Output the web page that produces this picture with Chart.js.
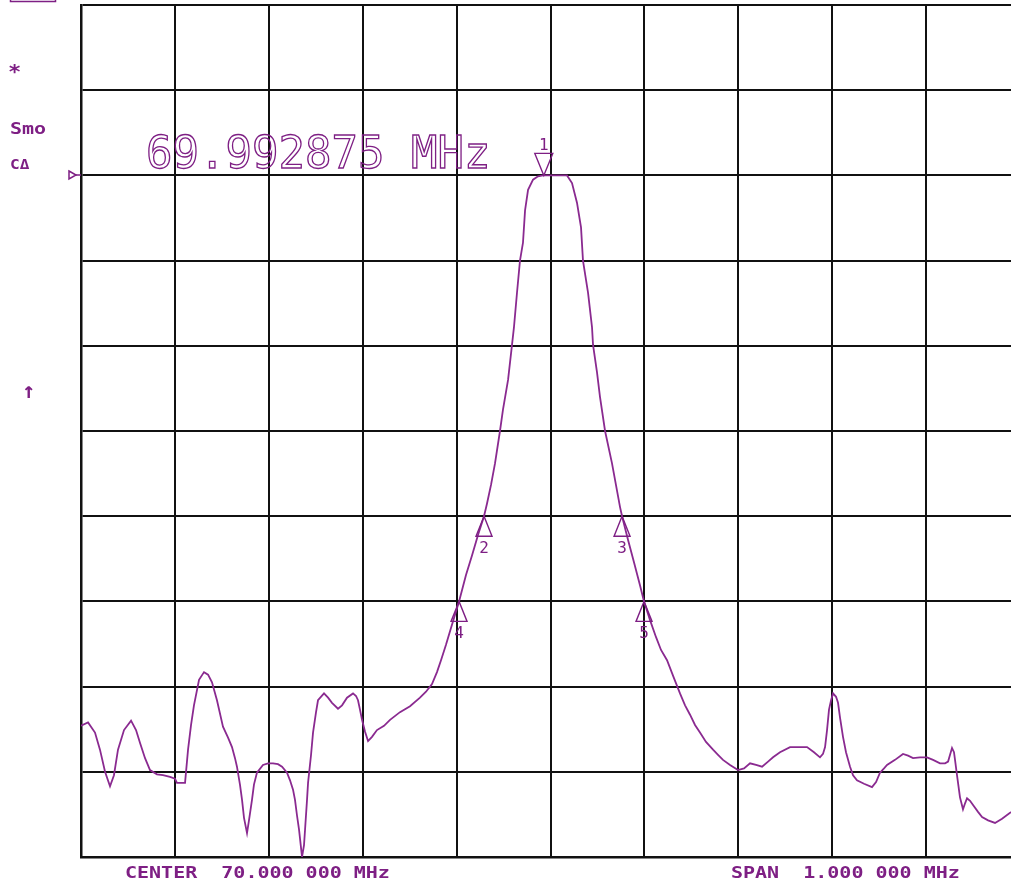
<!DOCTYPE html>
<html><head><meta charset="utf-8">
<script src="https://cdn.jsdelivr.net/npm/chart.js@4.4.1/dist/chart.umd.min.js"></script>
<style>
html,body{margin:0;padding:0;background:#fff;overflow:hidden;}
#wrap{position:relative;width:1040px;height:884px;}
</style></head><body>
<div id="wrap"><canvas id="c" width="1040" height="884"></canvas></div>
<script>
// Sweep: frequency (MHz) and trace level (dB, ref level 0 dB at the ">" marker, 10 dB/div)
const freqMHz = [
69.5000,69.5075,69.5149,69.5202,69.5256,69.5309,69.5351,69.5394,69.5458,69.5533,
69.5586,69.5628,69.5682,69.5735,69.5809,69.5873,69.5948,69.6001,69.6022,69.6108,
69.6140,69.6172,69.6203,69.6257,69.6310,69.6353,69.6395,69.6448,69.6512,69.6566,
69.6608,69.6640,69.6661,69.6693,69.6715,69.6736,69.6768,69.6789,69.6821,69.6842,
69.6874,69.6938,69.6992,69.7045,69.7098,69.7141,69.7194,69.7226,69.7258,69.7279,
69.7300,69.7322,69.7354,69.7375,69.7386,69.7407,69.7418,69.7450,69.7471,69.7503,
69.7524,69.7588,69.7631,69.7673,69.7737,69.7780,69.7833,69.7897,69.7929,69.7950,
69.7971,69.7993,69.8025,69.8057,69.8099,69.8152,69.8227,69.8291,69.8397,69.8504,
69.8610,69.8674,69.8738,69.8791,69.8834,69.8887,69.8941,69.9026,69.9100,69.9164,
69.9228,69.9292,69.9324,69.9367,69.9409,69.9462,69.9494,69.9548,69.9590,69.9611,
69.9643,69.9675,69.9707,69.9729,69.9761,69.9814,69.9867,69.9920,70.0006,70.0101,
70.0176,70.0229,70.0282,70.0325,70.0346,70.0400,70.0442,70.0453,70.0495,70.0527,
70.0581,70.0655,70.0740,70.0762,70.0826,70.0889,70.0953,70.0996,70.1060,70.1124,
70.1177,70.1241,70.1315,70.1379,70.1433,70.1486,70.1539,70.1592,70.1656,70.1731,
70.1784,70.1837,70.1912,70.1997,70.2061,70.2125,70.2189,70.2253,70.2317,70.2370,
70.2444,70.2551,70.2636,70.2732,70.2806,70.2870,70.2902,70.2924,70.2945,70.2966,
70.2988,70.3009,70.3041,70.3062,70.3083,70.3115,70.3147,70.3190,70.3222,70.3264,
70.3339,70.3424,70.3467,70.3509,70.3552,70.3584,70.3669,70.3754,70.3808,70.3861,
70.3935,70.4010,70.4074,70.4148,70.4202,70.4234,70.4255,70.4276,70.4297,70.4308,
70.4329,70.4361,70.4393,70.4415,70.4436,70.4468,70.4500,70.4553,70.4596,70.4660,
70.4734,70.4809,70.4894,70.5000
];
const levelDb = [
-64.6,-64.2,-65.4,-67.4,-70.0,-71.7,-70.4,-67.4,-65.1,-64.0,
-65.1,-66.6,-68.4,-69.8,-70.3,-70.4,-70.6,-70.8,-71.3,-71.3,
-67.4,-64.5,-62.2,-59.2,-58.3,-58.6,-59.5,-61.6,-64.7,-66.0,
-67.1,-68.4,-69.4,-71.5,-73.3,-75.4,-77.2,-75.7,-73.3,-71.5,
-70.1,-69.2,-69.0,-69.0,-69.1,-69.4,-70.1,-71.0,-72.1,-73.3,
-75.1,-76.8,-80.0,-78.6,-76.8,-73.3,-71.3,-68.0,-65.4,-63.0,
-61.6,-60.8,-61.3,-61.9,-62.6,-62.2,-61.3,-60.8,-61.1,-61.6,
-62.7,-63.9,-65.3,-66.4,-65.9,-65.1,-64.6,-63.9,-63.0,-62.3,
-61.3,-60.6,-59.7,-58.3,-56.9,-55.1,-53.1,-50.0,-46.9,-44.6,
-42.2,-40.0,-38.5,-36.3,-33.8,-30.0,-27.5,-24.0,-19.9,-17.8,
-13.8,-10.0,-7.9,-4.1,-1.7,-0.5,-0.1,0,0,0,
0,-0.9,-3.2,-6.1,-10.0,-13.8,-17.8,-19.9,-23.1,-26.0,
-30.0,-33.8,-38.9,-40.0,-42.8,-45.4,-48.1,-50.0,-52.2,-54.2,
-55.7,-56.9,-59.0,-60.8,-62.2,-63.3,-64.5,-65.4,-66.5,-67.4,
-68.0,-68.6,-69.2,-69.8,-69.6,-69.0,-69.2,-69.4,-68.8,-68.3,
-67.7,-67.1,-67.1,-67.1,-67.7,-68.3,-67.9,-67.1,-65.1,-62.7,
-61.6,-60.8,-61.2,-61.9,-63.6,-65.9,-67.7,-69.4,-70.4,-71.0,
-71.4,-71.8,-71.2,-70.1,-69.6,-69.2,-68.6,-67.9,-68.1,-68.4,
-68.3,-68.3,-68.6,-69.0,-69.0,-68.8,-68.0,-67.2,-67.7,-68.6,
-70.4,-73.0,-74.4,-73.7,-73.1,-73.4,-73.9,-74.7,-75.3,-75.7,
-76.0,-75.5,-74.8,-74.3
];
// Markers
const markerNums  = ['1','2','3','4','5'];
const markerFreq  = [69.992875, 69.9292, 70.0762, 69.9026, 70.0996];
const markerLevel = [0, -40, -40, -50, -50];
const markerDown  = [true, false, false, false, false];
// Axis setup
const freqMin = 69.5, freqMax = 70.5, freqStep = 0.1;
const dbMin = -80, dbMax = 20, dbStep = 10;
const refLevel = 0;
// Annotation texts
const activeMarkerText = '69.992875 MHz';
const centerText = 'CENTER  70.000 000 MHz';
const spanText = 'SPAN  1.000 000 MHz';
const sideLabels = ['*', 'Smo', 'C\u0394', '\u2191'];

const TXT = '#7e1f84';
const TRACE = '#8a2a90';

function wideText(ctx, s, x, y, size, sx, weight) {
  ctx.save();
  ctx.font = (weight || 'normal') + ' ' + size + "px 'DejaVu Sans Mono'";
  ctx.translate(x, y);
  ctx.scale(sx, 1);
  ctx.fillText(s, 0, 0);
  ctx.restore();
}

const overlay = {
  id: 'overlay',
  afterDraw(chart) {
    const ctx = chart.ctx;
    const xs = chart.scales.x, ys = chart.scales.y;
    ctx.save();
    ctx.fillStyle = TXT; ctx.strokeStyle = TXT;
    ctx.textBaseline = 'alphabetic'; ctx.textAlign = 'left';

    // top-left box remnant
    ctx.lineWidth = 1.5;
    ctx.strokeRect(10.5, -6, 45, 7.5);

    // side labels
    wideText(ctx, sideLabels[0], 8, 78, 20, 1.1, 'bold');
    wideText(ctx, sideLabels[1], 10, 134, 16, 1.25, 'bold');
    wideText(ctx, sideLabels[2], 10, 169, 14, 1.15, 'bold');
    wideText(ctx, sideLabels[3], 22, 398, 22, 1.0, 'bold');

    // reference level marker
    const ry = Math.round(ys.getPixelForValue(refLevel));
    ctx.lineWidth = 1.5;
    ctx.beginPath();
    ctx.moveTo(69, ry - 4); ctx.lineTo(76, ry); ctx.lineTo(69, ry + 4); ctx.closePath();
    ctx.stroke();
    ctx.beginPath(); ctx.moveTo(76, ry); ctx.lineTo(81, ry); ctx.stroke();

    // active marker frequency, outlined vector-like text
    ctx.save();
    ctx.font = "44px 'DejaVu Sans Mono'";
    ctx.lineWidth = 1.3;
    ctx.strokeText(activeMarkerText, 146, 168);
    ctx.restore();

    // bottom annotations
    wideText(ctx, centerText, 125, 878, 16, 1.25, 'bold');
    wideText(ctx, spanText, 731, 878, 16, 1.25, 'bold');

    // markers
    ctx.lineWidth = 1.4;
    ctx.textAlign = 'center';
    for (let i = 0; i < markerNums.length; i++) {
      const px = xs.getPixelForValue(markerFreq[i]);
      const py = ys.getPixelForValue(markerLevel[i]);
      ctx.beginPath();
      if (markerDown[i]) {
        ctx.moveTo(px, py); ctx.lineTo(px - 9, py - 22); ctx.lineTo(px + 9, py - 22); ctx.closePath();
        ctx.stroke();
        ctx.font = "16px 'DejaVu Sans Mono'";
        ctx.fillText(markerNums[i], px, py - 25);
      } else {
        ctx.moveTo(px, py); ctx.lineTo(px - 8, py + 20); ctx.lineTo(px + 8, py + 20); ctx.closePath();
        ctx.stroke();
        ctx.font = "16px 'DejaVu Sans Mono'";
        ctx.fillText(markerNums[i], px, py + 37);
      }
    }
    ctx.restore();
  }
};

new Chart(document.getElementById('c'), {
  type: 'line',
  data: {
    datasets: [{
      data: freqMHz.map((f, i) => ({ x: f, y: levelDb[i] })),
      borderColor: TRACE,
      borderWidth: 1.8,
      pointRadius: 0,
      tension: 0,
      fill: false
    }]
  },
  options: {
    responsive: false,
    devicePixelRatio: 1,
    animation: false,
    layout: { padding: { left: 81, top: 5, right: 20, bottom: 27 } },
    plugins: { legend: { display: false }, tooltip: { enabled: false }, title: { display: false } },
    scales: {
      x: {
        type: 'linear', min: freqMin, max: freqMax,
        ticks: { display: false, stepSize: freqStep },
        grid: { color: '#111', lineWidth: 2, drawTicks: false },
        border: { color: '#111', width: 2.5 }
      },
      y: {
        type: 'linear', min: dbMin, max: dbMax,
        ticks: { display: false, stepSize: dbStep },
        grid: { color: '#111', lineWidth: 2, drawTicks: false },
        border: { color: '#111', width: 2.5 }
      }
    }
  },
  plugins: [overlay]
});
</script>
</body></html>
